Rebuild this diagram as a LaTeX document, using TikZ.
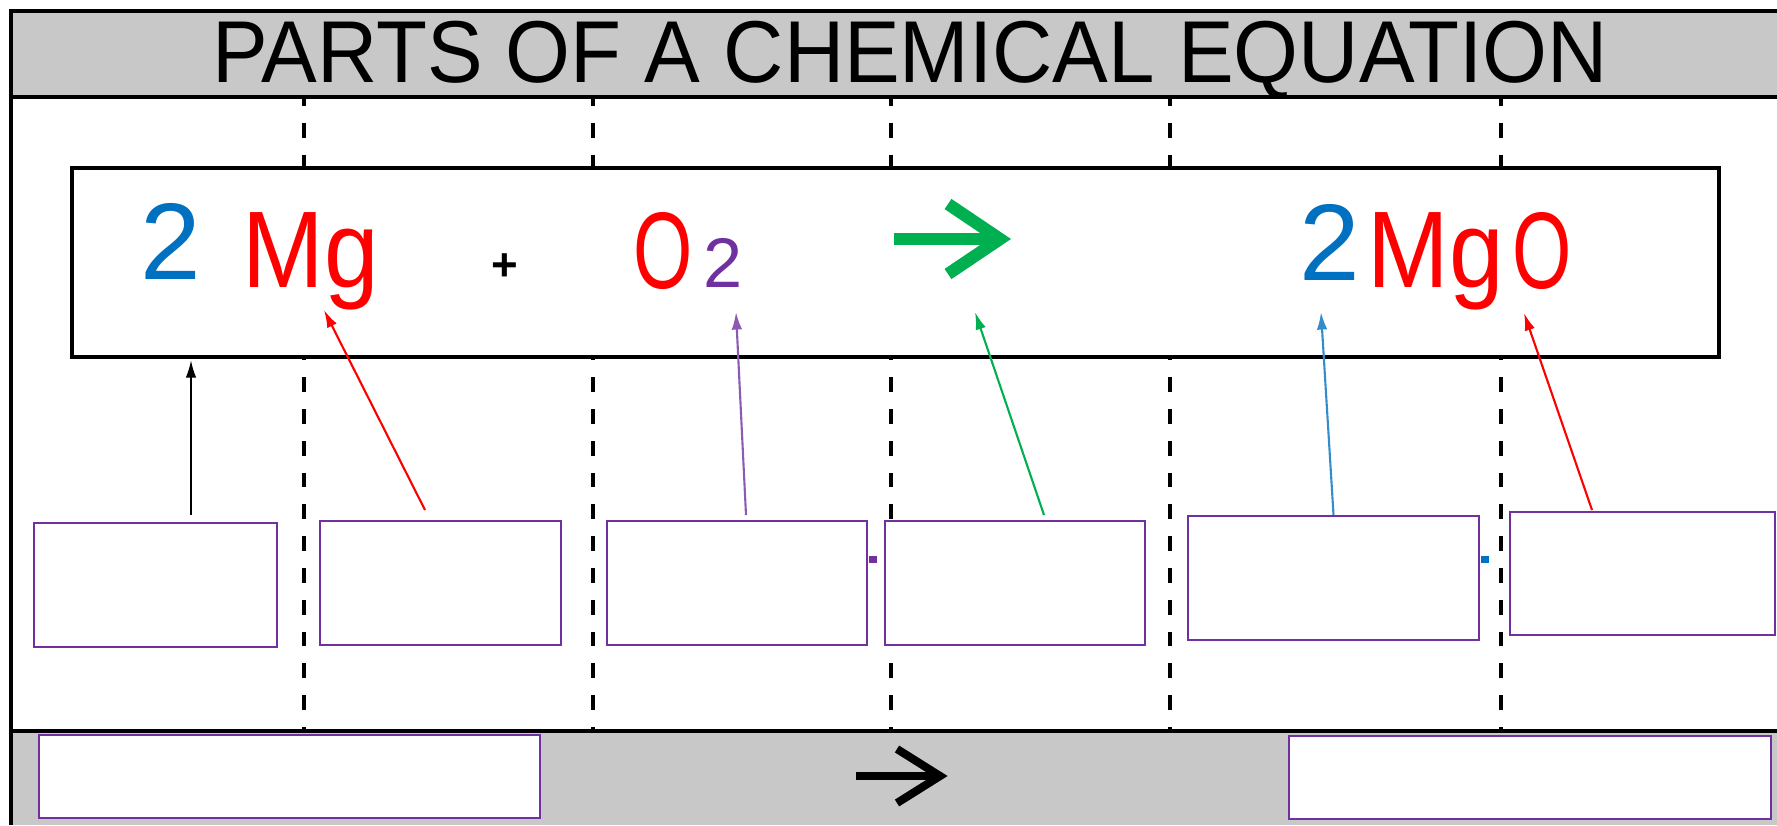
\documentclass[tikz,border=0pt]{standalone}
\usepackage{fontspec}
\setmainfont{Liberation Sans}
\usepackage{graphicx}
\usepackage{xcolor}
\usetikzlibrary{arrows.meta}

\definecolor{bargray}{HTML}{C8C8C8}
\definecolor{coefblue}{HTML}{0070C0}
\definecolor{elemred}{HTML}{FF0000}
\definecolor{subpurple}{HTML}{7030A0}
\definecolor{yieldgreen}{HTML}{00B050}

\tikzset{
  eqtext/.style={inner sep=0pt, anchor=base, font=\fontsize{62}{62}\selectfont},
  answerbox/.style={draw=subpurple, line width=1.4pt, fill=white, inner sep=0pt},
  pointer/.style={line width=1.2pt, -{Latex[length=10pt,width=6pt]}},
  bigarrow/.style={line width=7pt, line join=miter},
  divider/.style={line width=2.2pt, dash pattern=on 8.4pt off 9.7pt}
}

\begin{document}
\begin{tikzpicture}[x=0.02cm, y=-0.02cm]
  \useasboundingbox (0,0) rectangle (1777,825);

  % Dashed dividers
  \foreach \xd in {304,593,891,1170,1501}
    \draw[divider] (\xd,91) -- (\xd,731);

  % Title bar and bottom bar
  \fill[bargray] (11,11) rectangle (1777,97);
  \fill[bargray] (11,731) rectangle (1777,825);
  \node[anchor=base, inner sep=0pt, font=\fontsize{50}{50}\selectfont] (title) at (910,82)
    {\scalebox{0.95}[1]{PARTS OF A CHEMICAL EQUATION}};
  \draw[line width=2pt] (1777,11) -- (11,11) -- (11,825);
  \draw[line width=2pt] (11,97) -- (1777,97);
  \draw[line width=2pt] (11,731) -- (1777,731);

  % Equation box
  \node[draw, line width=1.9pt, fill=white, inner sep=0pt,
        minimum width=32.94cm, minimum height=3.78cm] (eqbox) at (895.5,262.5) {};

  % Reactants
  \node[eqtext, coefblue] (coefA) at (171,279) {2};
  \node[eqtext, elemred] (elemA) at (311,287) {\scalebox{0.9}[1]{Mg}};
  \node[inner sep=0pt, font=\bfseries\fontsize{26}{26}\selectfont] (plus) at (505,267) {+};
  \node[eqtext, elemred] (elemB) at (663,288) {\scalebox{0.7}[1]{O}};
  \node[eqtext, subpurple, font=\fontsize{40}{40}\selectfont] (subB) at (723,287) {2};

  % Yields sign
  \draw[bigarrow, yieldgreen] (894,239) -- (1000,239);
  \draw[bigarrow, yieldgreen] (948,204) -- (1000,239) -- (948,274);

  % Product
  \node[eqtext, coefblue] (coefC) at (1330,280) {2};
  \node[eqtext, elemred] (elemC) at (1436,287) {\scalebox{0.9}[1]{Mg}};
  \node[eqtext, elemred] (elemD) at (1542,288) {\scalebox{0.7}[1]{O}};

  % Answer boxes
  \node[answerbox, minimum width=4.86cm, minimum height=2.48cm] (box1) at (155.5,585) {};
  \node[answerbox, minimum width=4.82cm, minimum height=2.48cm] (box2) at (440.5,583) {};
  \node[answerbox, minimum width=5.2cm, minimum height=2.48cm] (box3) at (737,583) {};
  \node[answerbox, minimum width=5.2cm, minimum height=2.48cm] (box4) at (1015,583) {};
  \node[answerbox, minimum width=5.82cm, minimum height=2.48cm] (box5) at (1333.5,578) {};
  \node[answerbox, minimum width=5.3cm, minimum height=2.46cm] (box6) at (1642.5,573.5) {};
  \fill[subpurple] (869,556) rectangle (877,563);
  \fill[coefblue] (1481,556) rectangle (1489,563);

  % Pointers
  \coordinate (t1) at (191,515);  \coordinate (h1) at (191,360);
  \coordinate (t2) at (425,510);  \coordinate (h2) at (324,310);
  \coordinate (t3) at (746,515);  \coordinate (h3) at (736,312);
  \coordinate (t4) at (1044,515); \coordinate (h4) at (975,312);
  \coordinate (h5) at (1321,312);
  \coordinate (t6) at (1592,510); \coordinate (h6) at (1524,313);
  \draw[pointer, black] (t1) -- (h1);
  \draw[pointer, elemred] (t2) -- (h2);
  \draw[pointer, subpurple!80] (t3) -- (h3);
  \draw[pointer, yieldgreen] (t4) -- (h4);
  \draw[pointer, coefblue!80] (box5.north) -- (h5);
  \draw[pointer, elemred] (t6) -- (h6);

  % Word equation row
  \node[answerbox, minimum width=10.02cm, minimum height=1.66cm] (wordA) at (289.5,776.5) {};
  \node[answerbox, minimum width=9.64cm, minimum height=1.66cm] (wordB) at (1530,777.5) {};
  \draw[bigarrow, black, line width=4.6pt] (856,776) -- (940,776);
  \draw[bigarrow, black, line width=4.6pt] (897,749) -- (940,776) -- (897,803);
\end{tikzpicture}
\end{document}
